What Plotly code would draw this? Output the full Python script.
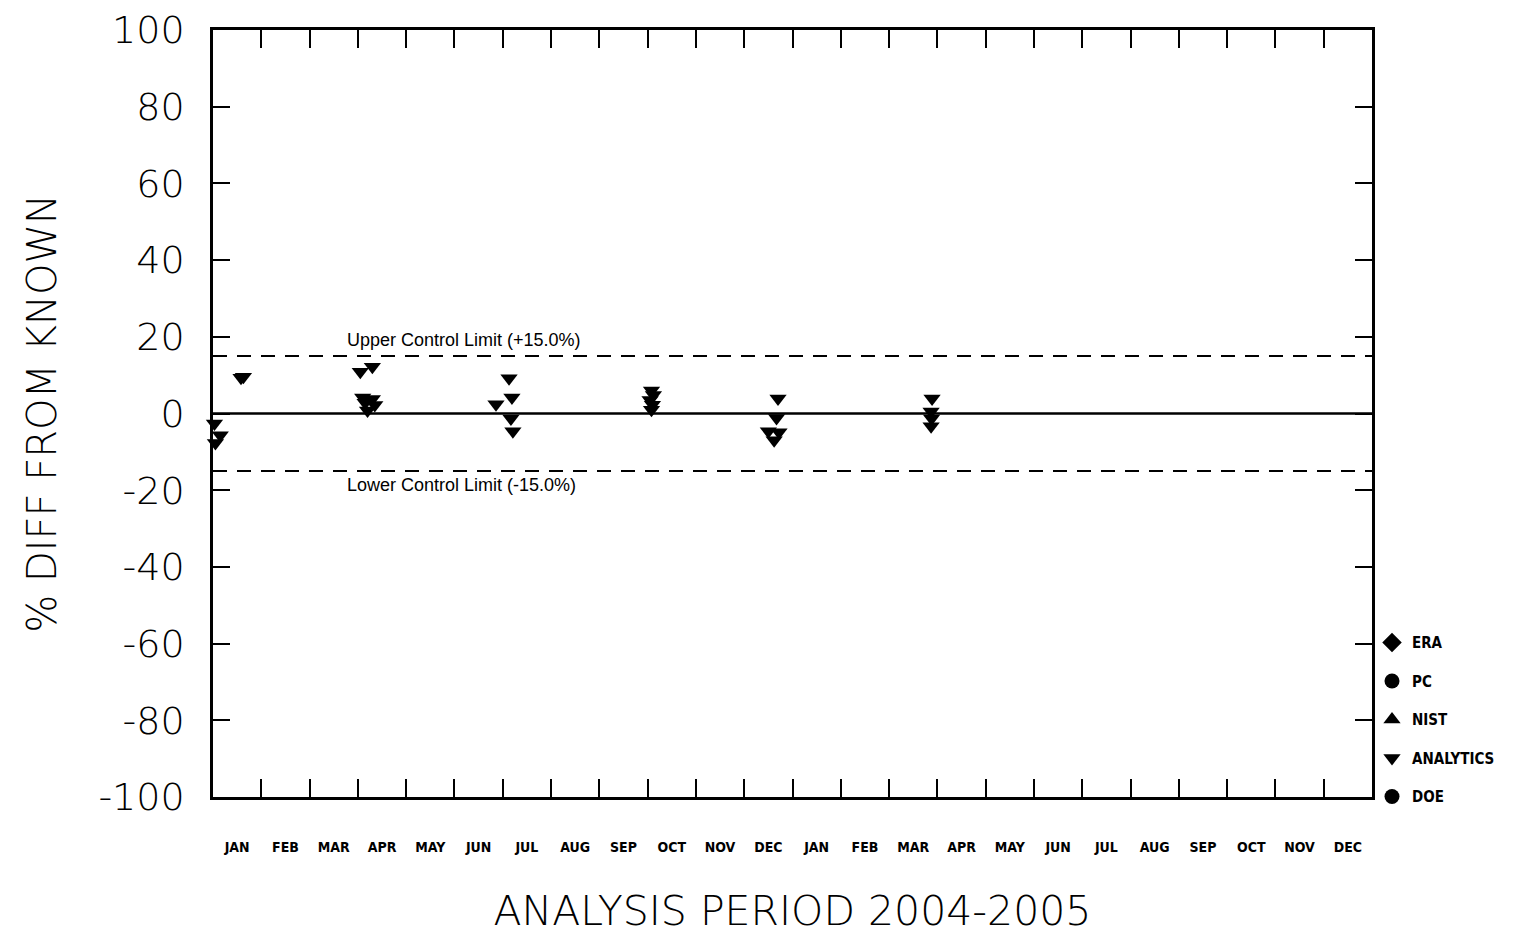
import plotly.graph_objects as go

# ---- data ----
months = ["JAN", "FEB", "MAR", "APR", "MAY", "JUN", "JUL", "AUG", "SEP", "OCT", "NOV", "DEC"] * 2
# position in months since start of Jan 2004
analytics_month = [0.03, 0.15, 0.05,
                   0.58, 0.63,
                   3.05, 3.3, 3.1, 3.3, 3.15, 3.35, 3.2,
                   6.13, 6.19, 5.86, 6.17, 6.21,
                   9.08, 9.12, 9.05, 9.1, 9.08,
                   11.7, 11.67, 11.5, 11.72, 11.62,
                   14.89, 14.87, 14.88, 14.87]
analytics_diff = [-2.6, -5.7, -7.7,
                  9.3, 9.6,
                  10.9, 12.2, 4.2, 3.8, 2.8, 2.2, 0.8,
                  9.2, 4.2, 2.4, -1.3, -4.6,
                  6.0, 4.8, 3.5, 2.3, 1.0,
                  3.9, -1.2, -4.6, -4.9, -7.0,
                  3.9, 0.5, -1.3, -3.3]
legend_names = ["ERA", "PC", "NIST", "ANALYTICS", "DOE"]
legend_symbols = ["diamond", "circle", "triangle-up", "triangle-down", "circle"]
upper_limit = 15.0
lower_limit = -15.0
y_ticks = [100, 80, 60, 40, 20, 0, -20, -40, -60, -80, -100]
y_tick_text = ["100", "80", "60", "40", "20", "0", "-20", "-40", "-60", "-80", "-100"]

fig = go.Figure()
for name, sym in zip(legend_names, legend_symbols):
    if name == "ANALYTICS":
        fig.add_trace(go.Scatter(x=analytics_month, y=analytics_diff, mode="markers", name=name,
                                 legendgroup=name, cliponaxis=False,
                                 marker=dict(symbol=sym, size=15, color="black")))
    else:
        fig.add_trace(go.Scatter(x=[None], y=[None], mode="markers", name=name, legendgroup=name,
                                 marker=dict(symbol=sym, size=15, color="black")))

# zero line and control limits
fig.add_shape(type="line", xref="paper", x0=0, x1=1, y0=0, y1=0, line=dict(color="black", width=2.5))
fig.add_shape(type="line", xref="paper", x0=0, x1=1, y0=upper_limit, y1=upper_limit,
              line=dict(color="black", width=2, dash="14px,10px"))
fig.add_shape(type="line", xref="paper", x0=0, x1=1, y0=lower_limit, y1=lower_limit,
              line=dict(color="black", width=2, dash="14px,10px"))

fig.add_annotation(x=2.73, y=upper_limit, yshift=16, xanchor="left", showarrow=False,
                   text="Upper Control Limit (+15.0%)",
                   font=dict(family="Liberation Sans", size=18, color="black"))
fig.add_annotation(x=2.73, y=lower_limit, yshift=-14, xanchor="left", showarrow=False,
                   text="Lower Control Limit (-15.0%)",
                   font=dict(family="Liberation Sans", size=18, color="black"))

month_centers = [i + 0.5 for i in range(len(months))]
fig.update_layout(
    width=1518, height=935, autosize=False,
    paper_bgcolor="white", plot_bgcolor="white",
    margin=dict(l=205, r=154, t=22, b=146, autoexpand=False),
    showlegend=True,
    legend=dict(x=1.0, xanchor="left", y=0.2226, yanchor="top", tracegroupgap=16,
                font=dict(family="DejaVu Sans Condensed", size=15, color="black", weight="bold"),
                bgcolor="rgba(0,0,0,0)", itemwidth=30),
    xaxis=dict(range=[0, len(months)], showgrid=False, zeroline=False, automargin=False,
               showline=True, linecolor="black", linewidth=2.5, mirror="ticks",
               tickmode="array", tickvals=month_centers, ticktext=months, ticks="",
               ticklabelstandoff=35,
               tickfont=dict(family="DejaVu Sans Condensed", size=14, color="black", weight="bold"),
               minor=dict(tickmode="array", tickvals=list(range(1, len(months))), ticks="inside",
                          ticklen=18, tickwidth=2, tickcolor="black"),
               title=dict(text="ANALYSIS PERIOD 2004-2005", standoff=43,
                          font=dict(family="DejaVu Sans", size=41, color="black", weight=200))),
    yaxis=dict(range=[-100.01, 100.01], showgrid=False, zeroline=False, automargin=False,
               showline=True, linecolor="black", linewidth=2.5, mirror="ticks",
               tickmode="array", tickvals=y_ticks, ticktext=y_tick_text,
               ticks="inside", ticklen=17, tickwidth=2, ticklabeloverflow="allow",
               tickcolor="black", ticklabelstandoff=18,
               tickfont=dict(family="DejaVu Sans", size=38, color="black", weight=200),
               title=dict(text="% DIFF FROM KNOWN", standoff=30,
                          font=dict(family="DejaVu Sans", size=40, color="black", weight=200))),
)

fig.write_html("out.html")
